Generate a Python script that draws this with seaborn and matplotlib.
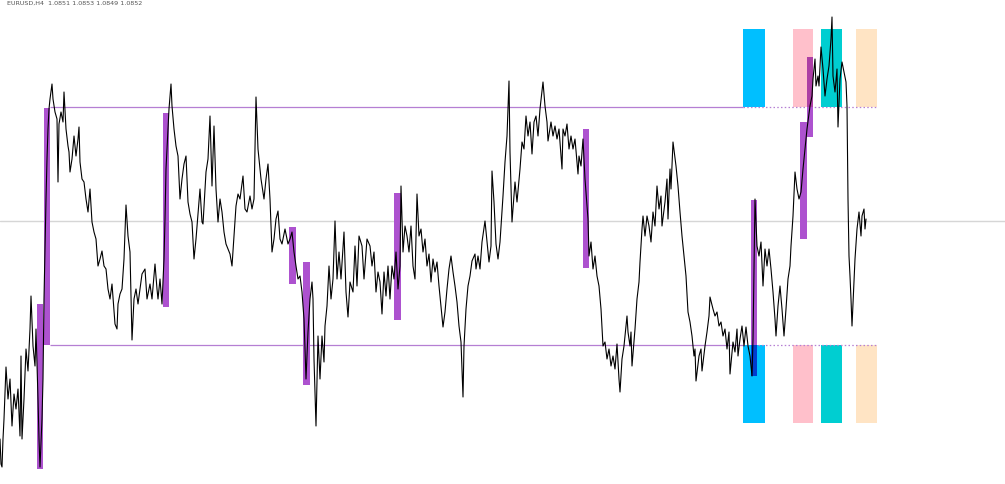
import numpy as np
import matplotlib
matplotlib.use("Agg")
import matplotlib.pyplot as plt
import matplotlib.colors as mcolors
import seaborn as sns

# price path (bar index, height above bottom edge)
bar_idx = [0, 1, 2, 3, 4, 6, 8, 10, 12, 14, 16, 18, 20, 21, 22, 24, 26, 28, 30, 31,
           33, 35, 36, 38, 39, 40, 42, 43, 44, 45, 46, 47, 48, 49, 50, 52, 53, 55, 57, 58,
           59, 61, 63, 64, 66, 68, 69, 70, 72, 74, 76, 78, 79, 80, 82, 84, 86, 88, 90, 92,
           94, 96, 98, 100, 102, 104, 106, 108, 110, 112, 115, 117, 118, 120, 122, 124, 126, 128, 130, 132,
           134, 136, 138, 140, 142, 145, 147, 150, 152, 155, 157, 158, 160, 162, 164, 165, 166, 167, 168, 169,
           171, 172, 174, 176, 178, 180, 182, 184, 186, 188, 190, 192, 194, 196, 198, 200, 202, 203, 206, 208,
           210, 212, 214, 216, 218, 220, 222, 224, 226, 228, 230, 232, 234, 236, 238, 240, 243, 245, 247, 250,
           252, 254, 256, 258, 261, 264, 266, 268, 270, 272, 274, 276, 278, 280, 282, 285, 288, 290, 292, 294,
           296, 298, 300, 302, 304, 305, 306, 308, 310, 312, 313, 314, 316, 318, 320, 322, 324, 325, 327, 329,
           331, 333, 335, 337, 339, 341, 344, 346, 348, 350, 353, 355, 357, 359, 362, 364, 367, 370, 372, 374,
           376, 378, 380, 382, 384, 386, 388, 390, 392, 394, 396, 398, 400, 401, 403, 405, 407, 409, 411, 413,
           415, 417, 419, 421, 423, 425, 427, 429, 431, 433, 435, 437, 439, 441, 443, 445, 447, 449, 451, 453,
           455, 457, 459, 461, 463, 464, 466, 468, 470, 472, 475, 476, 478, 480, 482, 485, 487, 489, 491, 492,
           494, 496, 498, 500, 503, 505, 507, 509, 510, 512, 513, 515, 517, 520, 522, 524, 526, 528, 530, 532,
           534, 536, 538, 540, 543, 545, 547, 548, 551, 553, 555, 557, 559, 562, 563, 565, 567, 569, 571, 573,
           575, 578, 579, 581, 583, 585, 588, 589, 591, 593, 595, 597, 599, 601, 603, 605, 607, 609, 611, 613,
           615, 617, 619, 620, 622, 624, 627, 628, 630, 631, 632, 635, 637, 639, 640, 642, 643, 645, 647, 649,
           651, 653, 655, 657, 659, 661, 662, 665, 667, 668, 670, 671, 673, 676, 678, 680, 682, 684, 686, 688,
           690, 692, 694, 695, 696, 699, 701, 702, 705, 707, 709, 710, 713, 715, 717, 719, 721, 723, 725, 727,
           729, 730, 733, 735, 737, 738, 740, 742, 744, 746, 748, 750, 752, 753, 754, 755, 757, 759, 761, 763,
           765, 767, 769, 771, 773, 775, 776, 778, 780, 782, 784, 786, 788, 790, 791, 793, 795, 797, 799, 801,
           803, 805, 807, 810, 812, 813, 815, 816, 818, 819, 821, 823, 825, 827, 829, 831, 832, 833, 835, 837,
           838, 840, 842, 844, 846, 847, 848, 849, 850, 851, 852, 854, 855, 857, 859, 861, 862, 864, 865, 866]

price_rows = [440, 465, 468, 440, 420, 368, 400, 380, 427, 395, 410, 390, 437, 357, 440, 400, 350, 372, 330, 297,
              347, 367, 330, 400, 440, 468, 420, 380, 300, 250, 200, 160, 130, 110, 100, 85, 100, 113, 120, 183,
              125, 113, 123, 93, 130, 147, 153, 173, 160, 137, 157, 140, 128, 163, 180, 183, 200, 213, 190, 223,
              233, 240, 267, 260, 252, 267, 270, 290, 300, 285, 325, 330, 305, 295, 290, 260, 206, 237, 253, 341,
              300, 290, 305, 290, 275, 270, 300, 285, 300, 265, 290, 300, 280, 305, 260, 220, 170, 150, 130, 110,
              85, 107, 130, 147, 157, 200, 180, 165, 157, 203, 215, 223, 260, 240, 215, 190, 223, 225, 173, 160,
              117, 187, 127, 190, 223, 200, 213, 233, 245, 250, 255, 267, 237, 207, 195, 200, 177, 210, 213, 197,
              210, 200, 98, 150, 180, 200, 180, 165, 200, 253, 240, 220, 212, 240, 245, 230, 245, 240, 233, 253,
              267, 280, 277, 293, 320, 350, 380, 333, 300, 283, 300, 360, 427, 337, 380, 337, 363, 327, 307, 267,
              300, 280, 222, 280, 253, 280, 233, 293, 318, 283, 293, 247, 287, 237, 247, 280, 240, 247, 267, 253,
              293, 273, 283, 315, 273, 297, 267, 300, 267, 280, 253, 290, 267, 187, 253, 227, 237, 253, 227, 267,
              280, 195, 237, 230, 253, 240, 267, 255, 283, 260, 273, 263, 287, 307, 328, 313, 290, 270, 257, 273,
              287, 303, 327, 343, 398, 347, 310, 287, 277, 262, 255, 270, 257, 270, 243, 222, 243, 263, 247, 172,
              203, 245, 260, 243, 197, 163, 137, 82, 153, 223, 210, 183, 203, 170, 143, 150, 117, 137, 123, 155,
              123, 117, 137, 110, 83, 107, 123, 142, 123, 137, 127, 140, 130, 170, 130, 137, 125, 150, 137, 150,
              140, 175, 157, 167, 140, 180, 220, 257, 243, 270, 257, 277, 287, 310, 347, 343, 360, 350, 367, 357,
              370, 345, 380, 393, 360, 347, 317, 333, 347, 333, 367, 330, 300, 283, 263, 230, 217, 237, 217, 227,
              243, 213, 227, 187, 210, 197, 227, 203, 180, 220, 170, 190, 143, 167, 187, 213, 237, 257, 277, 313,
              323, 337, 357, 350, 382, 357, 350, 372, 347, 333, 317, 298, 310, 317, 313, 327, 323, 337, 330, 350,
              333, 375, 343, 353, 330, 357, 340, 327, 347, 328, 347, 357, 377, 340, 273, 200, 247, 257, 243, 287,
              250, 267, 250, 270, 293, 320, 337, 307, 287, 310, 337, 310, 280, 267, 247, 217, 173, 190, 200, 193,
              170, 150, 130, 107, 97, 80, 60, 87, 77, 87, 48, 70, 97, 80, 67, 40, 18, 77, 93, 70,
              128, 80, 63, 73, 83, 107, 200, 257, 277, 300, 327, 283, 260, 230, 213, 237, 217, 210, 230, 220]

# impulse bars (purple)
imp_left = [37, 44, 163, 289, 303, 394, 583, 751, 800, 807]
imp_right = [43, 50, 169, 296, 310, 401, 589, 757, 807, 813]
imp_low_rows = [470, 346, 308, 285, 386, 321, 269, 377, 240, 138]
imp_high_rows = [305, 109, 114, 228, 263, 194, 130, 201, 123, 58]
imp_color = "#ad52cf"

# zone blocks on the right
zone_left = [743, 793, 821, 856]
zone_right = [765, 813, 842, 877]
zone_colors = ["#00bfff", "#ffc0cb", "#00ced1", "#ffe4c4"]
upper_zone_rows = [30, 108]
lower_zone_rows = [346, 424]

# levels
upper_level_row = 108
lower_level_row = 346
last_price_row = 222
level_start = 50
level_end = 743
header = "EURUSD,H4  1.0851 1.0853 1.0849 1.0852"

H = 485
price = H - np.array(price_rows)

sns.set_style("white")
fig = plt.figure(figsize=(10.05, 4.85), dpi=100)
ax = fig.add_axes([0, 0, 1, 1])
ax.set_xlim(0, 1005)
ax.set_ylim(0, H)
ax.axis("off")

# last price line
ax.axhline(H - last_price_row, color="#d6d6d6", lw=1.0, zorder=1)

# range levels: solid, then dotted through the zone blocks
for row in [upper_level_row, lower_level_row]:
    ax.hlines(H - row, level_start, level_end, color="#b57fd3", lw=0.9, zorder=1.5)
    ax.hlines(H - row, zone_left[0], zone_right[-1], color="#b57fd3", lw=0.9,
              linestyles=(0, (1.2, 1.8)), zorder=1.5)

# zone blocks
for rows in [upper_zone_rows, lower_zone_rows]:
    lo, hi = H - rows[1], H - rows[0]
    ax.bar(zone_left, hi - lo, bottom=lo,
           width=np.array(zone_right) - np.array(zone_left),
           align="edge", color=zone_colors, linewidth=0, zorder=1)

# impulse bars
lows = H - np.array(imp_low_rows)
highs = H - np.array(imp_high_rows)
ax.bar(imp_left, highs - lows, bottom=lows,
       width=np.array(imp_right) - np.array(imp_left),
       align="edge", color=imp_color, linewidth=0, zorder=2)

# where an impulse bar sits on a zone block the colours multiply
imp_rgb = np.array(mcolors.to_rgb(imp_color))
for rows in [upper_zone_rows, lower_zone_rows]:
    zlo, zhi = H - rows[1], H - rows[0]
    for zl, zr, zc in zip(zone_left, zone_right, zone_colors):
        for il, ir, lo, hi in zip(imp_left, imp_right, lows, highs):
            x0, x1 = max(zl, il), min(zr, ir)
            y0, y1 = max(zlo, lo), min(zhi, hi)
            if x1 > x0 and y1 > y0:
                mix = imp_rgb * np.array(mcolors.to_rgb(zc))
                ax.bar(x0, y1 - y0, bottom=y0, width=x1 - x0, align="edge",
                       color=mix, linewidth=0, zorder=2.5)

# price line
sns.lineplot(x=bar_idx, y=price, color="black", lw=0.8, estimator=None,
             sort=False, ax=ax, zorder=3)

fig.text(7 / 1005, 1 - 0.5 / H, header, fontsize=4.6, color="#555555",
         va="top", ha="left")

fig.savefig("out.png", dpi=100)
